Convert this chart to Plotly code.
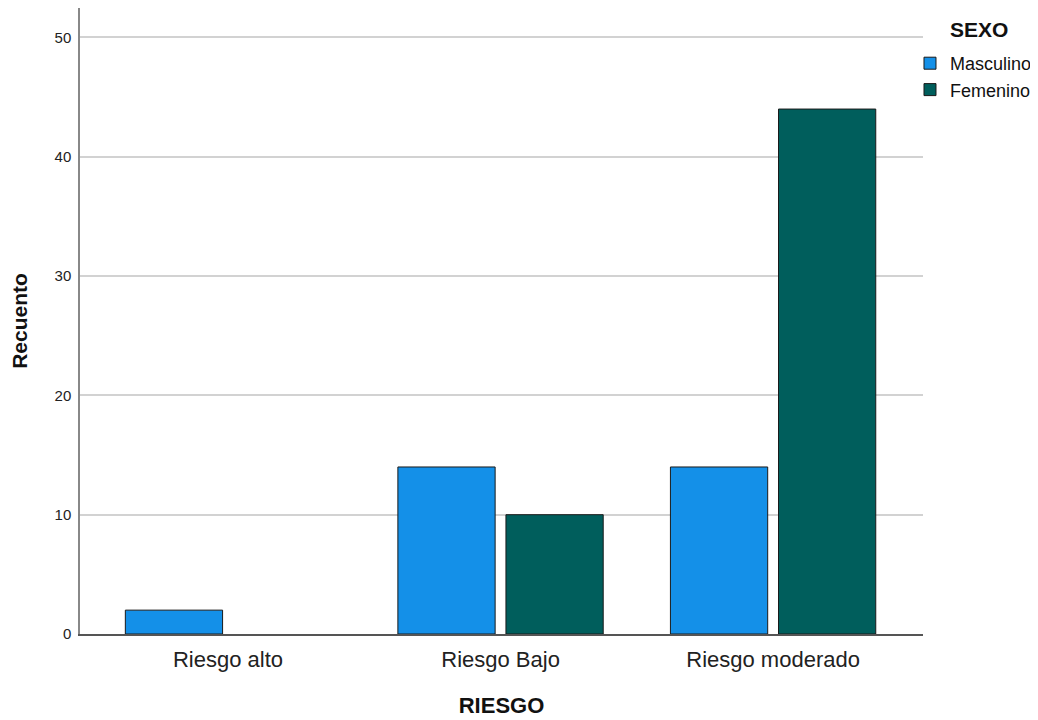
import plotly.graph_objects as go

categories = ["Riesgo alto", "Riesgo Bajo", "Riesgo moderado"]
masculino = [2, 14, 14]
femenino = [None, 10, 44]  # 0 in "Riesgo alto" (no visible bar)
series_names = ["Masculino", "Femenino"]
y_ticks = [0, 10, 20, 30, 40, 50]
legend_title = "SEXO"

colors = ["#1490e8", "#005e5c"]

fig = go.Figure()
for name, vals, col in zip(series_names, [masculino, femenino], colors):
    fig.add_trace(go.Bar(
        x=categories, y=vals, name=name,
        marker=dict(color=col, line=dict(color="#1a1a1a", width=1)),
    ))

fig.add_annotation(
    text="<b>" + legend_title + "</b>", xref="paper", yref="paper",
    x=1.067, y=0.965, xanchor="center", yanchor="middle",
    showarrow=False, font=dict(size=21, color="#111"),
)

fig.update_layout(
    width=1040, height=720,
    margin=dict(l=72, r=125, t=0, b=94, autoexpand=False),
    paper_bgcolor="white", plot_bgcolor="white",
    barmode="group", bargap=0.207, bargroupgap=0.1,
    font=dict(family="Liberation Sans, Arial, sans-serif", color="#111"),
    showlegend=True,
    legend=dict(
        xref="container", yref="container",
        x=0.8673, xanchor="left", y=1 - 37 / 720, yanchor="top",
        font=dict(size=18, color="#111"),
        itemwidth=30, tracegroupgap=0,
        bgcolor="rgba(0,0,0,0)",
    ),
    xaxis=dict(
        type="category", range=[-0.543, 2.55], automargin=True,
        showline=True, linecolor="#555", linewidth=1.5,
        showgrid=False, ticks="", ticklabelstandoff=5,
        tickfont=dict(size=22, color="#222"),
        title=dict(text="<b>RIESGO</b>", font=dict(size=22, color="#111"), standoff=26),
    ),
    yaxis=dict(
        range=[0, 52.47], tickvals=y_ticks, automargin=True,
        showline=True, linecolor="#888", linewidth=1.5,
        showgrid=True, gridcolor="#d2d2d2", gridwidth=1.5,
        zeroline=False, ticks="", ticklabelstandoff=4,
        tickfont=dict(size=15, color="#222"),
        title=dict(text="<b>Recuento</b>", font=dict(size=21, color="#111"), standoff=23),
    ),
)

fig.write_html("out.html")
